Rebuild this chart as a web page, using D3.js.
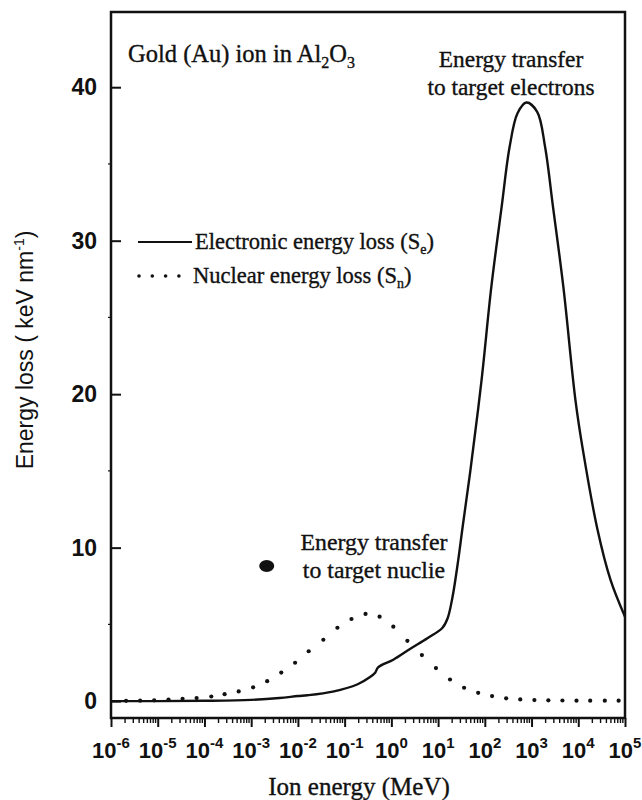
<!DOCTYPE html>
<html>
<head>
<meta charset="utf-8">
<script src="https://cdn.jsdelivr.net/npm/d3@7"></script>
<style>
  body { margin: 0; background: #fff; }
  .serif { font-family: "Liberation Serif", "Times New Roman", serif; fill: #111; stroke: #111; stroke-width: 0.35px; }
  .sans { font-family: "Liberation Sans", Arial, sans-serif; fill: #111; }
</style>
</head>
<body>
<div id="chart"></div>
<script>
// Gold ion stopping in Al2O3: electronic (solid) and nuclear (dotted) energy loss

// electronic energy loss, ion energy in MeV -> keV/nm
let elecEnergy = [1e-6, 1e-5, 1e-4, 1e-3, 4e-3, 1e-2, 1.6e-2, 5.6e-2, 0.19, 0.35, 0.45, 0.52,
  1.1, 2.5, 5.9, 12.3, 16, 20.4, 27, 33, 49, 85, 138, 229, 339, 501, 776,
  1320, 1950, 2880, 4790, 8710, 1.25e4, 2.57e4, 4.9e4, 1e5];
let elecLoss = [0.0, 0.0, 0.02, 0.08, 0.2, 0.33, 0.38, 0.62, 1.1, 1.57, 1.85, 2.2,
  2.7, 3.4, 4.1, 4.76, 5.4, 6.8, 9.2, 11.2, 15.0, 20.9, 27.0, 32.2, 36.1, 38.3, 39.0,
  38.4, 36.1, 32.2, 27.0, 19.6, 16.4, 11.2, 7.9, 5.5];

// nuclear energy loss, one dot per data point
let nuclEnergy = [2.1e-6, 4.2e-6, 8.4e-6, 1.7e-5, 3.4e-5, 6.8e-5, 1.4e-4, 2.7e-4, 5.4e-4,
  1.1e-3, 2.2e-3, 4.4e-3, 8.7e-3, 1.7e-2, 3.5e-2, 7e-2, 0.14, 0.28, 0.56, 1.1, 2.2, 4.5,
  9, 18, 36, 72, 143, 286, 573, 1150, 2290, 4580, 9160, 1.8e4, 3.7e4, 7.3e4];
let nuclLoss = [0.02, 0.03, 0.05, 0.1, 0.15, 0.2, 0.3, 0.45, 0.63, 0.9, 1.3, 1.86, 2.5,
  3.25, 4.0, 4.78, 5.35, 5.68, 5.5, 4.85, 3.93, 3.0, 2.15, 1.41, 0.87, 0.54, 0.33, 0.18,
  0.11, 0.07, 0.05, 0.04, 0.03, 0.03, 0.03, 0.03];

// the stray blob left of the nuclear label
let blob = { energy: 2.15e-3, loss: 8.8 };

let xDecades = [1e-6, 1e-5, 1e-4, 1e-3, 1e-2, 1e-1, 1e0, 1e1, 1e2, 1e3, 1e4, 1e5];
let xExponents = ["-6", "-5", "-4", "-3", "-2", "-1", "0", "1", "2", "3", "4", "5"];
let yTicks = [0, 10, 20, 30, 40];

////////////////////////////////////////////////////////////////////////
// scales

let svgW = 642, svgH = 800;
let padL = 111, padR = 625, padT = 12, padB = 718;

let x = d3.scaleLog().domain([1e-6, 1e5]).range([padL, padR]);
let y = d3.scaleLinear().domain([-1.1, 44.9]).range([padB, padT]);

let svg = d3.select("#chart").append("svg")
  .attr("width", svgW)
  .attr("height", svgH);

////////////////////////////////////////////////////////////////////////
// axes

// y axis, ticks pointing into the plot
let yAxis = svg.append("g")
  .attr("transform", "translate(" + padL + ",0)")
  .call(d3.axisLeft(y).tickValues(yTicks).tickSize(-10).tickPadding(14));
yAxis.select(".domain").remove();
yAxis.selectAll("line").attr("stroke", "#111").attr("stroke-width", 2);
yAxis.selectAll("text")
  .attr("class", "sans")
  .style("font-size", "23px")
  .style("font-weight", "bold");

// minor y ticks, tiny, outside
svg.append("g").selectAll("line")
  .data([5, 15, 25, 35])
  .enter().append("line")
  .attr("x1", padL - 3).attr("x2", padL)
  .attr("y1", d => y(d)).attr("y2", d => y(d))
  .attr("stroke", "#111").attr("stroke-width", 1.2);

// x axis, decades with outward ticks
let xAxis = svg.append("g")
  .attr("transform", "translate(0," + padB + ")")
  .call(d3.axisBottom(x).tickValues(xDecades).tickSize(9).tickFormat(""));
xAxis.select(".domain").remove();
xAxis.selectAll("line").attr("stroke", "#111").attr("stroke-width", 2);

// minor x ticks 2..9 of each decade
let minor = [];
xDecades.slice(0, -1).forEach(function(d) {
  for (let m = 2; m <= 9; m++) minor.push(d * m);
});
svg.append("g").selectAll("line")
  .data(minor)
  .enter().append("line")
  .attr("x1", d => x(d)).attr("x2", d => x(d))
  .attr("y1", padB).attr("y2", padB + 5)
  .attr("stroke", "#111").attr("stroke-width", 1.4);

// tick labels like 10^-6
let xLab = svg.append("g").selectAll("text")
  .data(xDecades)
  .enter().append("text")
  .attr("class", "sans")
  .attr("x", d => x(d))
  .attr("y", 758)
  .attr("text-anchor", "middle")
  .style("font-size", "22px")
  .style("font-weight", "bold");
xLab.append("tspan").text("10");
xLab.append("tspan")
  .attr("dy", -10)
  .style("font-size", "15px")
  .text((d, i) => xExponents[i]);

// frame
svg.append("rect")
  .attr("x", padL).attr("y", padT)
  .attr("width", padR - padL).attr("height", padB - padT)
  .attr("fill", "none")
  .attr("stroke", "#111")
  .attr("stroke-width", 2.5);

////////////////////////////////////////////////////////////////////////
// curves

let elec = elecEnergy.map((e, i) => ({ e: e, v: elecLoss[i] }));
let nucl = nuclEnergy.map((e, i) => ({ e: e, v: nuclLoss[i] }));

let line = d3.line()
  .x(d => x(d.e))
  .y(d => y(d.v))
  .curve(d3.curveCatmullRom.alpha(0.5));

svg.append("path")
  .datum(elec)
  .attr("d", line)
  .attr("fill", "none")
  .attr("stroke", "#111")
  .attr("stroke-width", 2.4);

svg.append("g").selectAll("circle")
  .data(nucl)
  .enter().append("circle")
  .attr("cx", d => x(d.e))
  .attr("cy", d => y(d.v))
  .attr("r", 2.1)
  .attr("fill", "#111");

svg.append("ellipse")
  .attr("cx", x(blob.energy))
  .attr("cy", y(blob.loss))
  .attr("rx", 7.5)
  .attr("ry", 6)
  .attr("fill", "#111");

////////////////////////////////////////////////////////////////////////
// texts

let title = svg.append("text")
  .attr("class", "serif")
  .attr("x", 128).attr("y", 62)
  .style("font-size", "24.5px");
title.append("tspan").text("Gold (Au) ion in Al");
title.append("tspan").attr("dy", 6).style("font-size", "16px").text("2");
title.append("tspan").attr("dy", -6).text("O");
title.append("tspan").attr("dy", 6).style("font-size", "16px").text("3");

function twoLines(x0, y0, lines, size) {
  let t = svg.append("text")
    .attr("class", "serif")
    .attr("text-anchor", "middle")
    .style("font-size", size + "px");
  lines.forEach(function(s, i) {
    t.append("tspan").attr("x", x0).attr("y", y0 + i * 28).text(s);
  });
}
twoLines(511, 67, ["Energy transfer", "to target electrons"], 23.4);
twoLines(374, 550, ["Energy transfer", "to target nuclie"], 23.8);

// legend
svg.append("line")
  .attr("x1", 138).attr("x2", 192)
  .attr("y1", 242).attr("y2", 242)
  .attr("stroke", "#111").attr("stroke-width", 2);
svg.append("g").selectAll("circle")
  .data([0, 1, 2, 3])
  .enter().append("circle")
  .attr("cx", d => 139 + d * 13.3)
  .attr("cy", 276)
  .attr("r", 1.8)
  .attr("fill", "#111");

let leg1 = svg.append("text").attr("class", "serif")
  .attr("x", 195).attr("y", 249).style("font-size", "22.5px");
leg1.append("tspan").text("Electronic energy loss (S");
leg1.append("tspan").attr("dy", 5).style("font-size", "14px").text("e");
leg1.append("tspan").attr("dy", -5).text(")");

let leg2 = svg.append("text").attr("class", "serif")
  .attr("x", 193).attr("y", 283).style("font-size", "22.5px");
leg2.append("tspan").text("Nuclear energy loss (S");
leg2.append("tspan").attr("dy", 5).style("font-size", "14px").text("n");
leg2.append("tspan").attr("dy", -5).text(")");

// axis titles
svg.append("text")
  .attr("class", "serif")
  .attr("x", 359).attr("y", 795)
  .attr("text-anchor", "middle")
  .style("font-size", "25px")
  .text("Ion energy (MeV)");

let yt = svg.append("text")
  .attr("class", "sans")
  .attr("transform", "translate(33,350) rotate(-90)")
  .attr("text-anchor", "middle")
  .style("font-size", "23px");
yt.append("tspan").text("Energy loss ( keV nm");
yt.append("tspan").attr("dy", -9).style("font-size", "14px").text("-1");
yt.append("tspan").attr("dy", 9).text(")");
</script>
</body>
</html>
